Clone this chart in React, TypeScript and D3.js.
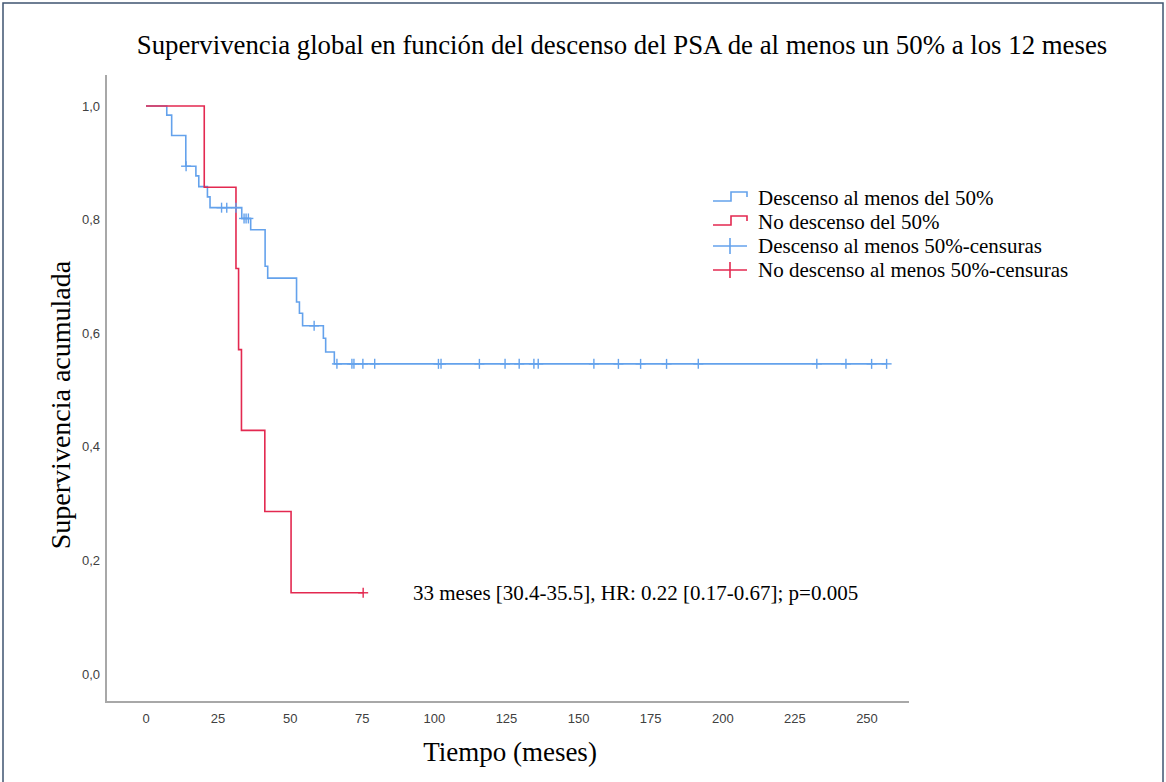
import React from 'react';
import * as d3 from 'd3';

// Kaplan-Meier: descenso del PSA >= 50% a los 12 meses
const blueEventTimes = [7.2, 8.9, 13.8, 17.3, 18.3, 21.3, 22.2, 33.2, 36.3, 41.3, 42.2, 52.2, 53.2, 54.3, 61.5, 62.3, 65.3];
const blueSurvival = [0.984, 0.948, 0.894, 0.877, 0.858, 0.84, 0.821, 0.802, 0.782, 0.718, 0.697, 0.655, 0.635, 0.613, 0.591, 0.567, 0.546];
const blueCensorTimes = [13.9, 26.2, 28.0, 31.2, 34.0, 34.7, 35.5, 58.3, 66.2, 71.4, 72.1, 75.2, 79.3, 101.4, 102.3, 115.6, 124.5, 129.4, 134.5, 136.0, 155.3, 163.8, 171.5, 180.5, 191.5, 232.6, 242.7, 251.6, 256.8];

const redEventTimes = [20.2, 31.2, 32.1, 33.1, 41.2, 50.3];
const redSurvival = [0.857, 0.714, 0.571, 0.429, 0.286, 0.143];
const redCensorTimes = [75.3];

const xTicks = [0, 25, 50, 75, 100, 125, 150, 175, 200, 225, 250];
const yTicks = [0, 0.2, 0.4, 0.6, 0.8, 1.0];

const legendLabels = [
  'Descenso al menos del 50%',
  'No descenso del 50%',
  'Descenso al menos 50%-censuras',
  'No descenso al menos 50%-censuras',
];

const BLUE = '#64a2ec';
const RED = '#e32950';
const AXIS = '#a8a8a8';
const SERIF = '"Liberation Serif", "Times New Roman", serif';
const SANS = '"Liberation Sans", Arial, sans-serif';

function survAt(times: number[], surv: number[], t: number) {
  let s = 1;
  times.forEach((et, i) => { if (et <= t) s = surv[i]; });
  return s;
}

function stepPoints(times: number[], surv: number[], end: number): [number, number][] {
  const pts: [number, number][] = [[0, 1]];
  times.forEach((t, i) => pts.push([t, surv[i]]));
  pts.push([end, surv[surv.length - 1]]);
  return pts;
}

export default function App() {
  const width = 1166, height = 782;
  const x = d3.scaleLinear().domain([0, 250]).range([146, 867]);
  const y = d3.scaleLinear().domain([0, 1]).range([674, 106]);

  const line = d3.line<[number, number]>()
    .x(d => x(d[0]))
    .y(d => y(d[1]))
    .curve(d3.curveStepAfter);

  const blueEnd = d3.max(blueCensorTimes) as number;
  const redEnd = d3.max(redCensorTimes) as number;
  const bluePath = line(stepPoints(blueEventTimes, blueSurvival, blueEnd)) || '';
  const redPath = line(stepPoints(redEventTimes, redSurvival, redEnd)) || '';

  const cross = (t: number, s: number, color: string, key: string) => (
    <g key={key} stroke={color} strokeWidth={1.4}>
      <line x1={x(t) - 5} x2={x(t) + 5} y1={y(s)} y2={y(s)} />
      <line x1={x(t)} x2={x(t)} y1={y(s) - 5} y2={y(s) + 5} />
    </g>
  );

  const legendX = 713, legendTextX = 758;
  const legendY = [198, 222, 246, 270];

  return (
    <svg width={width} height={height} style={{ position: 'absolute', left: 0, top: 0, background: '#fff' }}>
      {/* frame */}
      <rect x={3} y={3} width={1160} height={800} fill="none" stroke="#3f5470" strokeWidth={1.5} />

      <text x={622} y={54} textAnchor="middle" fontFamily={SERIF} fontSize={26.8} fill="#000">
        Supervivencia global en función del descenso del PSA de al menos un 50% a los 12 meses
      </text>

      {/* axes */}
      <line x1={106} x2={106} y1={75} y2={703} stroke={AXIS} strokeWidth={2} />
      <line x1={105} x2={909} y1={702} y2={702} stroke={AXIS} strokeWidth={2} />

      {yTicks.map(t => (
        <text key={'y' + t} x={100} y={y(t) + 4.5} textAnchor="end" fontFamily={SANS} fontSize={13} fill="#404040">
          {t.toFixed(1).replace('.', ',')}
        </text>
      ))}
      {xTicks.map(t => (
        <text key={'x' + t} x={x(t)} y={723} textAnchor="middle" fontFamily={SANS} fontSize={13} fill="#404040">
          {t}
        </text>
      ))}

      <text transform="translate(70,405) rotate(-90)" textAnchor="middle" fontFamily={SERIF} fontSize={28} fill="#000">
        Supervivencia acumulada
      </text>
      <text x={510} y={761} textAnchor="middle" fontFamily={SERIF} fontSize={27} fill="#000">
        Tiempo (meses)
      </text>

      {/* curves */}
      <path d={bluePath} fill="none" stroke={BLUE} strokeWidth={1.6} />
      <path d={redPath} fill="none" stroke={RED} strokeWidth={1.6} />
      {blueCensorTimes.map((t, i) => cross(t, survAt(blueEventTimes, blueSurvival, t), BLUE, 'bc' + i))}
      {redCensorTimes.map((t, i) => cross(t, survAt(redEventTimes, redSurvival, t), RED, 'rc' + i))}

      {/* legend */}
      {[BLUE, RED].map((c, i) => (
        <path key={'ls' + i} fill="none" stroke={c} strokeWidth={1.6}
          d={`M${legendX},${legendY[i] + 3}H${legendX + 18}V${legendY[i] - 6}H${legendX + 34}V${legendY[i] - 1}`} />
      ))}
      {[BLUE, RED].map((c, i) => (
        <g key={'lc' + i} stroke={c} strokeWidth={1.6}>
          <line x1={legendX} x2={legendX + 34} y1={legendY[i + 2]} y2={legendY[i + 2]} />
          <line x1={legendX + 17} x2={legendX + 17} y1={legendY[i + 2] - 8} y2={legendY[i + 2] + 8} />
        </g>
      ))}
      {legendLabels.map((l, i) => (
        <text key={'lt' + i} x={legendTextX} y={legendY[i] + 7} fontFamily={SERIF} fontSize={21} fill="#000">{l}</text>
      ))}

      <text x={413} y={600} fontFamily={SERIF} fontSize={21} fill="#000">
        33 meses [30.4-35.5], HR: 0.22 [0.17-0.67]; p=0.005
      </text>
    </svg>
  );
}
